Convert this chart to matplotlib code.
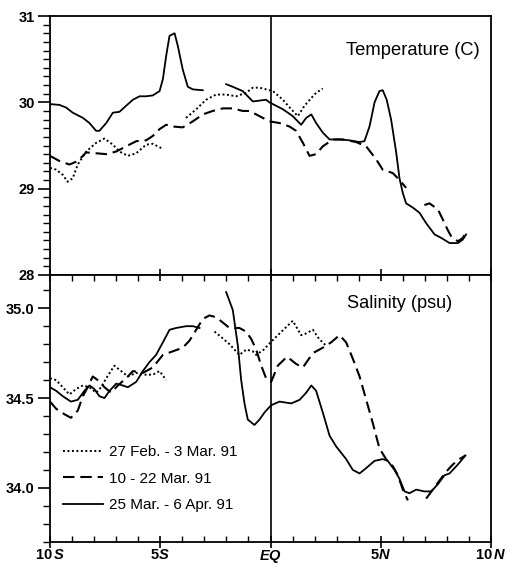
import numpy as np
import matplotlib
matplotlib.use("Agg")
import matplotlib.pyplot as plt
from matplotlib.ticker import MultipleLocator, FixedLocator

plt.rcParams['font.family'] = ['Liberation Sans', 'DejaVu Sans']
plt.rcParams['mathtext.fontset'] = 'custom'
plt.rcParams['mathtext.rm'] = 'Liberation Sans:bold'
plt.rcParams['mathtext.it'] = 'Liberation Sans:italic:bold'

nan = np.nan
labels = ["27 Feb. - 3 Mar. 91", "10 - 22 Mar. 91", "25 Mar. - 6 Apr. 91"]

# ---------------- Temperature ----------------
t_dot_lat = [-10.0, -9.72, -9.42, -9.2, -8.97, -8.74, -8.36, -7.91, -7.53, -7.15, -6.85, -6.47,
             -6.09, -5.64, -5.34, -4.88, nan,
             -3.83, -3.37, -2.92, -2.47, -2.01, -1.56, -1.11, -0.8, -0.5, -0.2, 0.11, 0.56,
             0.94, 1.24, 1.54, 1.85, 2.07, 2.37]
t_dot_val = [29.24, 29.22, 29.16, 29.08, 29.12, 29.28, 29.43, 29.53, 29.58, 29.51, 29.43, 29.38,
             29.41, 29.51, 29.52, 29.46, nan,
             29.82, 29.92, 30.03, 30.09, 30.09, 30.07, 30.11, 30.17, 30.17, 30.15, 30.13, 30.03,
             29.92, 29.84, 29.96, 30.05, 30.11, 30.16]

t_dash_lat = [-10.0, -9.57, -9.12, -8.74, -8.36, -7.91, -7.45, -7.0, -6.55, -6.09, -5.64, -5.34,
              -5.03, -4.73, -4.43, -3.98, -3.52, -3.07, -2.62, -2.16, -1.71, -1.26, -0.95, -0.5,
              -0.05, 0.41, 0.86, 1.16, 1.47, 1.77, 2.07, 2.37, 2.83, 3.28, 3.88, 4.34, 4.79,
              5.09, 5.55, 5.85, 6.15, nan,
              6.98, 7.21, 7.59, 7.82, 8.04, 8.19, 8.5, 8.72, 8.84]
t_dash_val = [29.38, 29.32, 29.28, 29.32, 29.42, 29.41, 29.40, 29.43, 29.49, 29.55, 29.56, 29.61,
              29.69, 29.74, 29.72, 29.71, 29.78, 29.86, 29.90, 29.93, 29.93, 29.90, 29.90, 29.84,
              29.78, 29.76, 29.72, 29.67, 29.53, 29.38, 29.40, 29.49, 29.57, 29.57, 29.54, 29.49, 29.34,
              29.22, 29.18, 29.10, 29.01, nan,
              28.81, 28.83, 28.76, 28.64, 28.52, 28.45, 28.39, 28.43, 28.48]

t_sol_lat = [-10.0, -9.57, -9.27, -8.97, -8.51, -8.21, -7.91, -7.76, -7.45, -7.15, -6.85, -6.55,
             -6.24, -5.94, -5.64, -5.34, -5.03, -4.88, -4.73, -4.58, -4.35, -4.2, -3.98, -3.75,
             -3.52, -3.07, nan,
             -2.01, -1.71, -1.26, -1.03, -0.8, -0.5, -0.2, -0.05, 0.56, 1.01, 1.39, 1.62, 1.85,
             2.07, 2.37, 2.68, 3.13, 3.58, 4.04, 4.26, 4.49, 4.72, 4.94, 5.09, 5.27, 5.47, 5.7,
             5.85, 6.0, 6.15, 6.46, 6.76, 7.06, 7.44, 7.74, 8.12, 8.5, 8.72, 8.87]
t_sol_val = [29.98, 29.97, 29.94, 29.88, 29.82, 29.76, 29.67, 29.67, 29.76, 29.88, 29.89, 29.96,
             30.03, 30.07, 30.07, 30.08, 30.13, 30.27, 30.54, 30.77, 30.80, 30.65, 30.38, 30.18,
             30.15, 30.14, nan,
             30.21, 30.18, 30.13, 30.07, 30.01, 30.02, 30.03, 30.00, 29.92, 29.84, 29.74, 29.82, 29.86,
             29.76, 29.65, 29.57, 29.57, 29.56, 29.54, 29.55, 29.72, 30.00, 30.13, 30.14, 30.03, 29.80, 29.42,
             29.12, 28.95, 28.83, 28.78, 28.72, 28.60, 28.47, 28.43, 28.37, 28.37, 28.41, 28.47]

# ---------------- Salinity ----------------
s_dot_lat = [-10.0, -9.72, -9.42, -9.12, -8.82, -8.51, -8.21, -7.91, -7.68, -7.45, -7.08, -6.77,
             -6.47, -6.09, -5.79, -5.34, -5.03, -4.73, nan,
             -2.54, -2.24, -1.86, -1.41, -1.1, -0.8, -0.65, -0.3, 0.0, 0.5, 1.01, 1.39, 1.62,
             1.92, 2.2, 2.53]
s_dot_val = [34.61, 34.60, 34.56, 34.52, 34.55, 34.57, 34.56, 34.53, 34.56, 34.61, 34.68, 34.65,
             34.62, 34.64, 34.63, 34.63, 34.65, 34.60, nan,
             34.87, 34.84, 34.80, 34.74, 34.77, 34.76, 34.74, 34.77, 34.81, 34.87, 34.93, 34.85, 34.86,
             34.88, 34.83, 34.79]

s_dash_lat = [-10.0, -9.72, -9.35, -9.05, -8.74, -8.51, -8.29, -8.06, -7.84, -7.53, -7.23, -6.92,
              -6.55, -6.24, -5.79, -5.34, -4.88, -4.43, -3.98, -3.67, -3.37, -3.07, -2.77, -2.47,
              -2.16, -1.86, -1.41, -1.11, -0.88, -0.65, -0.42, -0.2, 0.03, 0.33, 0.75, 1.16, 1.47,
              1.92, 2.37, 2.75, 3.13, 3.43, 3.73, 4.04, 4.34, 4.64, 4.94, 5.24, 5.55, 5.78, 6.0,
              6.23, nan,
              7.06, 7.36, 7.66, 7.97, 8.27, 8.57, 8.84]
s_dash_val = [34.48, 34.44, 34.41, 34.39, 34.43, 34.51, 34.56, 34.62, 34.60, 34.56, 34.53, 34.57,
              34.61, 34.65, 34.64, 34.67, 34.74, 34.76, 34.78, 34.82, 34.88, 34.94, 34.96, 34.95,
              34.92, 34.89, 34.89, 34.87, 34.83, 34.77, 34.68, 34.61, 34.59, 34.68, 34.73, 34.69, 34.67,
              34.75, 34.78, 34.81, 34.85, 34.81, 34.72, 34.62, 34.49, 34.36, 34.22, 34.16, 34.12, 34.07, 33.99,
              33.93, nan,
              33.94, 33.99, 34.04, 34.09, 34.13, 34.16, 34.18]

s_sol_lat = [-10.0, -9.72, -9.42, -9.05, -8.74, -8.44, -8.21, -7.99, -7.76, -7.53, -7.3, -7.0,
             -6.7, -6.47, -6.09, -5.79, -5.49, -5.19, -4.88, -4.58, -4.28, -3.83, -3.52, -3.22, nan,
             -2.01, -1.71, -1.48, -1.33, -1.18, -1.03, -0.73, -0.5, -0.27, 0.03, 0.41, 0.94, 1.32,
             1.62, 1.85, 2.07, 2.37, 2.68, 2.98, 3.43, 3.73, 4.04, 4.34, 4.72, 5.09, 5.32, 5.62,
             5.85, 6.08, 6.3, 6.61, 6.98, 7.29, 7.59, 7.89, 8.12, 8.5, 8.84]
s_sol_val = [34.56, 34.54, 34.51, 34.48, 34.49, 34.54, 34.57, 34.55, 34.51, 34.50, 34.54, 34.58,
             34.57, 34.56, 34.59, 34.65, 34.70, 34.74, 34.81, 34.88, 34.89, 34.90, 34.90, 34.89, nan,
             35.09, 34.99, 34.79, 34.60, 34.47, 34.38, 34.35, 34.38, 34.42, 34.46, 34.48, 34.47, 34.49,
             34.53, 34.57, 34.54, 34.42, 34.29, 34.23, 34.16, 34.10, 34.08, 34.11, 34.15, 34.16, 34.15, 34.10,
             34.05, 33.98, 33.97, 33.99, 33.98, 33.98, 34.02, 34.07, 34.08, 34.13, 34.18]

xtick_pos = [-10, -5, 0, 5, 10]
xtick_lab = [r"10$\,\mathit{S}$", r"5$\mathit{S}$", r"$\mathit{EQ}$", r"5$\mathit{N}$", r"10$\,\mathit{N}$"]

W, H = 514, 569
fig = plt.figure(figsize=(W / 100, H / 100), dpi=100)
L, R = 50 / W, 491 / W
ax1 = fig.add_axes([L, 1 - 275 / H, R - L, (275 - 16) / H])
ax2 = fig.add_axes([L, 1 - 541.7 / H, R - L, (541.7 - 275) / H])

dot = dict(color='black', lw=1.4, linestyle=(0, (1, 1.3)))
dash = dict(color='black', lw=1.5, linestyle=(0, (5.5, 2.8)))
sol = dict(color='black', lw=1.3, linestyle='-')

for ax, (a, b, c) in [(ax1, ((t_dot_lat, t_dot_val), (t_dash_lat, t_dash_val), (t_sol_lat, t_sol_val))),
                      (ax2, ((s_dot_lat, s_dot_val), (s_dash_lat, s_dash_val), (s_sol_lat, s_sol_val)))]:
    ax.plot(a[0], a[1], label=labels[0], **dot)
    ax.plot(b[0], b[1], label=labels[1], **dash)
    ax.plot(c[0], c[1], label=labels[2], **sol)
    ax.axvline(0, color='black', lw=1.2)
    ax.set_xlim(-10, 10)
    for s in ax.spines.values():
        s.set_linewidth(1.3)

ax1.set_ylim(28, 31)
ax2.set_ylim(33.70, 35.185)

ax1.yaxis.set_major_locator(FixedLocator([28, 29, 30, 31]))
ax1.yaxis.set_minor_locator(MultipleLocator(0.1))
ax2.yaxis.set_major_locator(FixedLocator([34.0, 34.5, 35.0]))
ax2.yaxis.set_minor_locator(MultipleLocator(0.1))
ax1.set_yticklabels(["28", "29", "30", "31"])
ax2.set_yticklabels(["34.0", "34.5", "35.0"])

for ax in (ax1, ax2):
    ax.xaxis.set_major_locator(FixedLocator(xtick_pos))
    ax.xaxis.set_minor_locator(MultipleLocator(1))
    ax.tick_params(axis='y', which='major', direction='out', length=9, width=1.2, left=True, right=False,
                   labelsize=10.5, pad=2)
    ax.tick_params(axis='y', which='minor', direction='out', length=5, width=1.0, left=True, right=False)

ax1.tick_params(axis='x', which='both', bottom=False, top=False, labelbottom=False)
ax2.tick_params(axis='x', which='major', direction='inout', length=9, width=1.2, top=True, bottom=True,
                labelsize=10.5, pad=0)
ax2.tick_params(axis='x', which='minor', direction='in', length=4, width=1.0, top=True, bottom=True)
ax2.set_xticklabels(xtick_lab)

for lab in ax1.get_yticklabels() + ax2.get_yticklabels() + ax2.get_xticklabels():
    lab.set_fontweight('bold')

ax1.text(0.975, 0.865, "Temperature (C)", transform=ax1.transAxes, ha='right', va='center', fontsize=13.2)
ax2.text(0.912, 0.895, "Salinity (psu)", transform=ax2.transAxes, ha='right', va='center', fontsize=13.1)

ax2.legend(loc='upper left', bbox_to_anchor=(63 / W, 1 - 445 / H), bbox_transform=fig.transFigure,
           frameon=False, fontsize=11, handlelength=2.6, handletextpad=0.4, labelspacing=0.82,
           borderpad=0, borderaxespad=0)

fig.savefig("out.png", dpi=100)
